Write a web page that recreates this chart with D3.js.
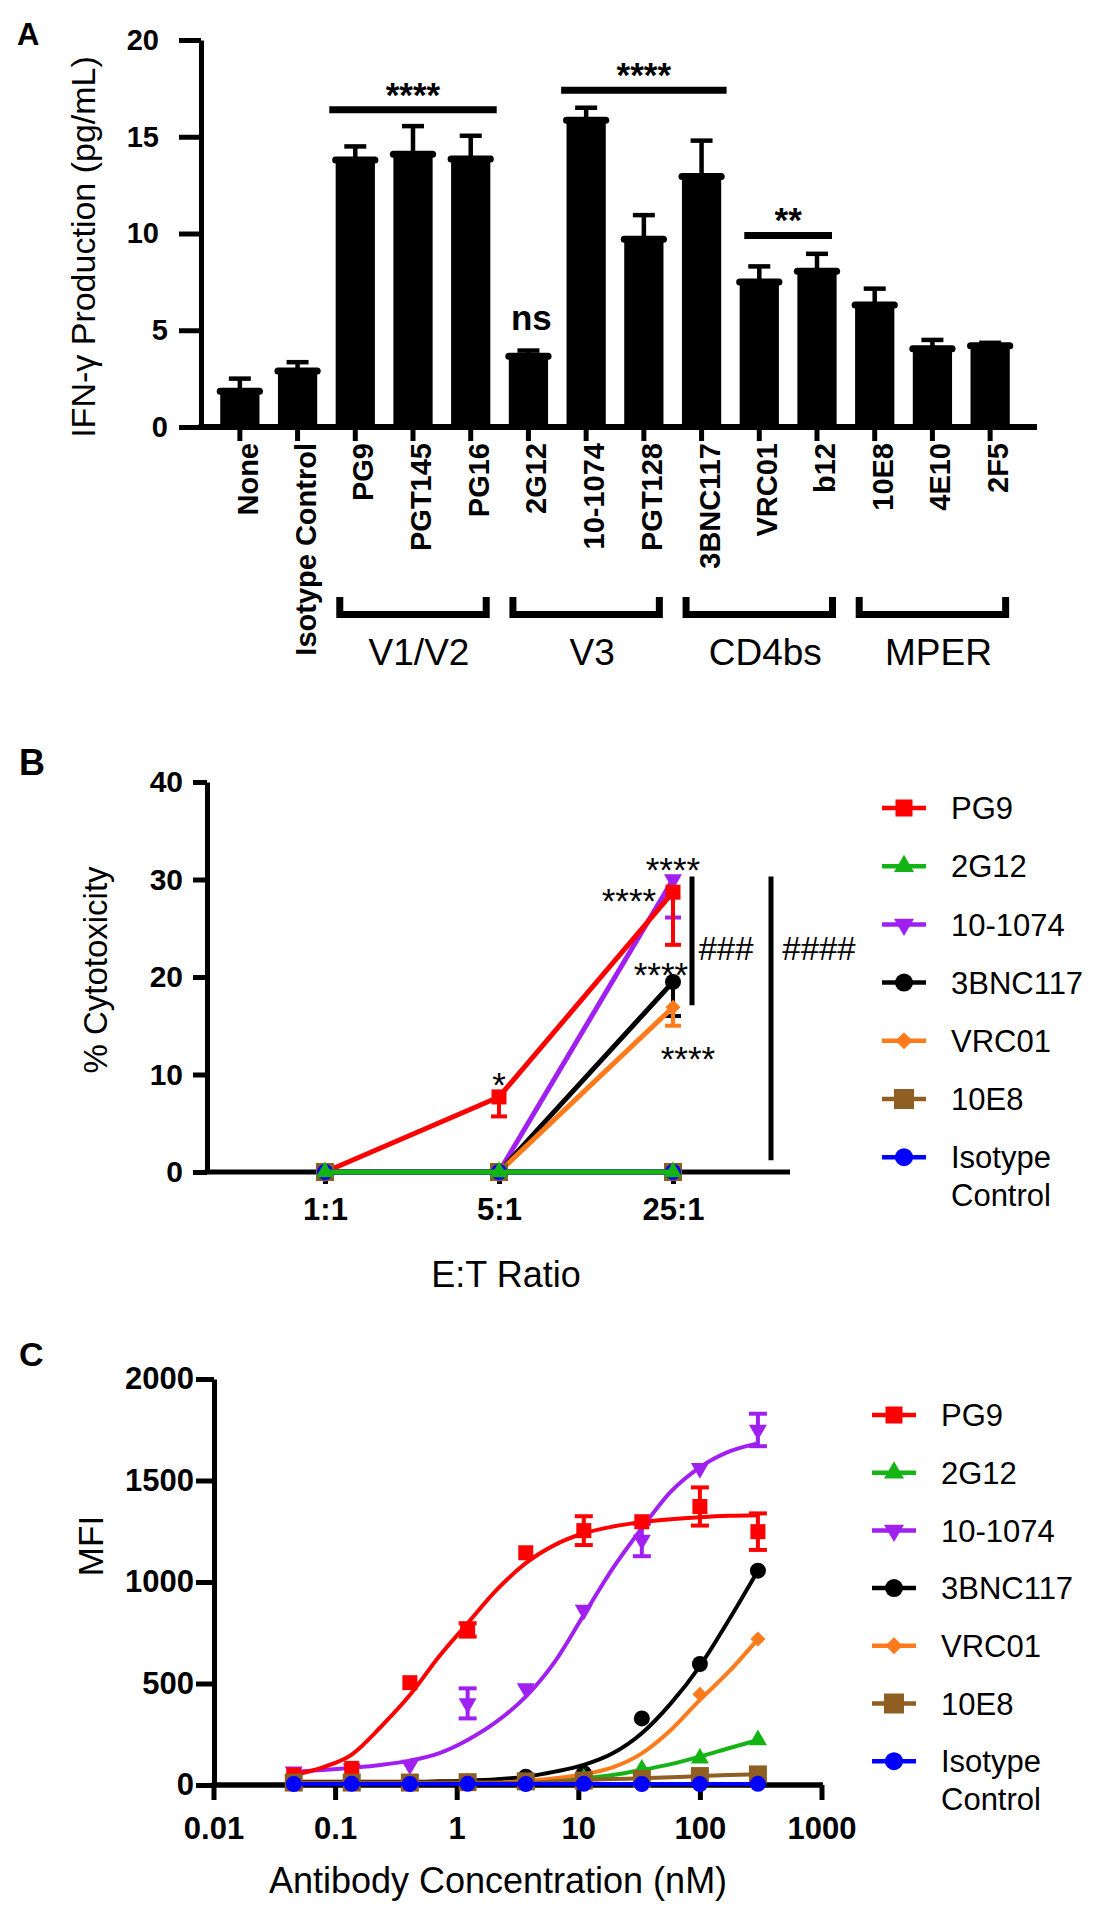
<!DOCTYPE html>
<html><head><meta charset="utf-8">
<script src="https://cdn.jsdelivr.net/npm/d3@7"></script>
<style>body{margin:0;background:#fff}svg{display:block}</style>
</head><body><svg id="chart" width="1107" height="1920"></svg>
<script>
// ================= DATA =================
// Panel A
const catsA = ["None","Isotype Control","PG9","PGT145","PG16","2G12","10-1074","PGT128","3BNC117","VRC01","b12","10E8","4E10","2F5"];
const meanA = [1.85,2.9,13.8,14.1,13.85,3.65,15.85,9.7,12.95,7.5,8.05,6.3,4.05,4.2];
const errA  = [0.65,0.45,0.7,1.45,1.2,0.3,0.65,1.25,1.85,0.8,0.9,0.85,0.45,0.15];
const ticksA = [0,5,10,15,20];
const groupNamesA = ["V1/V2","V3","CD4bs","MPER"];
const groupFromA = ["PG9","2G12","3BNC117","10E8"];
const groupToA   = ["PG16","PGT128","b12","2F5"];
const sigLabelsA = ["****","****","**"];
const sigFromA = ["PG9","10-1074","VRC01"];
const sigToA   = ["PG16","3BNC117","b12"];
const sigLevelA = [16.4,17.4,9.9];
const nsCatA = "2G12", nsLevelA = 5.0;

// Panel B
const ratiosB = ["1:1","5:1","25:1"];
const ticksB = [0,10,20,30,40];
const seriesNames = ["PG9","2G12","10-1074","3BNC117","VRC01","10E8","Isotype Control"];
const valB_PG9   = [0,7.7,28.7];   const errB_PG9   = [0,2.0,5.4];
const valB_2G12  = [0,0,0];        const errB_2G12  = [0,0,0];
const valB_1074  = [0,0,30.0];     const errB_1074  = [0,0,3.9];
const valB_3BNC  = [0,0,19.5];     const errB_3BNC  = [0,0,3.5];
const valB_VRC01 = [0,0,16.9];     const errB_VRC01 = [0,0,1.9];
const valB_10E8  = [0,0,0];        const errB_10E8  = [0,0,0];
const valB_Iso   = [0,0,0];        const errB_Iso   = [0,0,0];

// Panel C
const concC = [0.0457,0.137,0.412,1.23,3.70,11.1,33.3,100,300];
const ticksC_x = [0.01,0.1,1,10,100,1000];
const tickLabelsC_x = ["0.01","0.1","1","10","100","1000"];
const ticksC_y = [0,500,1000,1500,2000];
const valC_PG9   = [49,82,504,764,1144,1253,1297,1372,1248];
const errC_PG9   = [0,0,0,33,0,71,0,94,90];
const valC_2G12  = [6,6,6,8,10,33,77,131,222];
const errC_2G12  = [0,0,0,0,0,0,0,0,0];
const valC_1074  = [66,80,99,402,476,862,1207,1560,1749];
const errC_1074  = [0,0,0,74,0,0,80,0,80];
const valC_3BNC  = [12,12,12,15,41,58,328,596,1056];
const errC_3BNC  = [0,0,0,0,0,0,0,0,0];
const valC_VRC01 = [8,8,8,10,15,30,55,447,719];
const errC_VRC01 = [0,0,0,0,0,0,0,0,0];
const valC_10E8  = [12,12,12,14,18,22,30,44,52];
const errC_10E8  = [0,0,0,0,0,0,0,0,0];
const valC_Iso   = [5,6,5,6,5,6,5,5,6];
const errC_Iso   = [0,0,0,0,0,0,0,0,0];
// fitted curves
const curveConcC = [0.0457,0.0792,0.137,0.238,0.412,0.713,1.23,2.14,3.70,6.42,11.1,19.2,33.3,57.7,100,173,300];
const fitC_PG9   = [49,87,150,287,443,632,797,962,1093,1183,1240,1273,1295,1309,1319,1326,1329];
const fitC_1074  = [66,74,85,99,120,156,222,313,435,608,838,1067,1265,1445,1565,1642,1683];
const fitC_3BNC  = [16,16,16,16,16,18,21,28,41,66,99,156,255,402,586,813,1056];
const fitC_VRC01 = [11,11,11,11,11,11,11,11,21,33,53,87,156,271,419,558,719];
const fitC_2G12  = [8,8,8,8,8,8,8,8,8,16,33,49,74,103,140,181,222];
const fitC_10E8  = [11,11,11,11,11,11,11,11,11,18,25,29,33,38,44,49,53];
const fitC_Iso   = [5,5,5,5,5,5,5,5,5,5,5,5,5,5,5,5,5];

// ================= STYLE =================
const FONT = '"Liberation Sans", Arial, Helvetica, sans-serif';
const style = {
  "PG9":            {color:"#ff0000", shape:"square",  w:15},
  "2G12":           {color:"#14b414", shape:"triUp",   w:18},
  "10-1074":        {color:"#a020f0", shape:"triDown", w:18},
  "3BNC117":        {color:"#000000", shape:"circle",  w:16},
  "VRC01":          {color:"#ff7a1a", shape:"diamond", w:15},
  "10E8":           {color:"#8f5e22", shape:"square",  w:18},
  "Isotype Control":{color:"#0000ff", shape:"circle",  w:16}
};
function symbolPath(shape, w){
  if (shape==="square") return d3.symbol(d3.symbolSquare, w*w)();
  if (shape==="circle") return d3.symbol(d3.symbolCircle, Math.PI*w*w/4)();
  if (shape==="triUp"||shape==="triDown") return d3.symbol(d3.symbolTriangle, 0.433*w*w)();
  if (shape==="diamond") return d3.symbol(d3.symbolSquare, w*w/2)();
}
function symbolRot(shape){ return shape==="triDown"?180:(shape==="diamond"?45:0); }

const svg = d3.select("#chart").attr("font-family", FONT);
svg.append("rect").attr("width",1107).attr("height",1920).attr("fill","#fff");

function styleAxis(g, fs, weight, sw){
  g.attr("font-family",FONT).attr("font-size",fs).attr("font-weight",weight);
  g.selectAll(".tick line").attr("stroke","#000").attr("stroke-width",sw);
  g.selectAll(".domain").attr("stroke","#000").attr("stroke-width",sw);
  g.selectAll("text").attr("fill","#000");
}
function txt(g, x, y, s, fs, weight, anchor){
  return g.append("text").attr("x",x).attr("y",y).text(s)
    .attr("font-size",fs).attr("font-weight",weight||"normal")
    .attr("text-anchor",anchor||"start").attr("fill","#000");
}

// ================= PANEL A =================
const gA = svg.append("g");
const xA = d3.scaleBand().domain(catsA).range([211,1019]).paddingInner(0.32).paddingOuter(0.16);
const yA = d3.scaleLinear().domain([0,20]).range([427,40]);
const bwA = xA.bandwidth();
const cA = c => xA(c)+bwA/2;
const barsA = catsA.map((c,i)=>({c, v:meanA[i], e:errA[i]}));

txt(gA, 17, 45, "A", 31, "bold");

gA.selectAll("line.errA").data(barsA).join("line")
  .attr("x1",d=>cA(d.c)).attr("x2",d=>cA(d.c))
  .attr("y1",d=>yA(d.v)).attr("y2",d=>yA(d.v+d.e))
  .attr("stroke","#000").attr("stroke-width",4.5);
gA.selectAll("line.capA").data(barsA).join("line")
  .attr("x1",d=>cA(d.c)-11).attr("x2",d=>cA(d.c)+11)
  .attr("y1",d=>yA(d.v+d.e)).attr("y2",d=>yA(d.v+d.e))
  .attr("stroke","#000").attr("stroke-width",4.5);
gA.selectAll("rect.barA").data(barsA).join("rect")
  .attr("x",d=>xA(d.c)).attr("width",bwA)
  .attr("y",d=>yA(d.v)).attr("height",d=>yA(0)-yA(d.v)).attr("fill","#000");
gA.selectAll("line.topA").data(barsA).join("line")
  .attr("x1",d=>xA(d.c)).attr("x2",d=>xA(d.c)+bwA)
  .attr("y1",d=>yA(d.v)).attr("y2",d=>yA(d.v))
  .attr("stroke","#000").attr("stroke-width",7).attr("stroke-linecap","round");

const gYA = gA.append("g").attr("transform","translate(201,0)")
  .call(d3.axisLeft(yA).tickValues(ticksA).tickSize(22).tickSizeOuter(0).tickPadding(12));
styleAxis(gYA, 29, "bold", 5);
gYA.selectAll(".tick text").attr("x", d => d<10 ? -33 : -42);
const gXA = gA.append("g").attr("transform","translate(0,427)")
  .call(d3.axisBottom(xA).tickSize(14).tickSizeOuter(0));
gXA.select(".domain").remove();
styleAxis(gXA, 29, "bold", 5);
gXA.selectAll(".tick text").attr("transform","rotate(-90)")
  .attr("x",-16).attr("y",0).attr("dy","0.62em").attr("text-anchor","end");
gA.append("line").attr("x1",198.5).attr("x2",1037).attr("y1",427).attr("y2",427)
  .attr("stroke","#000").attr("stroke-width",6);

gA.append("text").attr("transform","translate(86,247) rotate(-90)")
  .attr("text-anchor","middle").attr("dy","0.25em").attr("font-size",34)
  .text("IFN-γ Production (pg/mL)");

groupNamesA.forEach((name,i)=>{
  const x1 = cA(groupFromA[i])-19, x2 = cA(groupToA[i])+19;
  gA.append("path").attr("d",`M${x1+3.5},597V614.5H${x2-3.5}V597`)
    .attr("fill","none").attr("stroke","#000").attr("stroke-width",7);
  txt(gA, (x1+x2)/2+6, 665, name, 37, "normal", "middle");
});
const sigPadA = [26,25,15];
sigLabelsA.forEach((lab,i)=>{
  const x1 = cA(sigFromA[i])-sigPadA[i], x2 = cA(sigToA[i])+sigPadA[i];
  const y = yA(sigLevelA[i]);
  gA.append("line").attr("x1",x1).attr("x2",x2).attr("y1",y).attr("y2",y)
    .attr("stroke","#000").attr("stroke-width",7);
  txt(gA, (x1+x2)/2, y-3, lab, 35, "bold", "middle");
});
txt(gA, cA(nsCatA)+3, yA(nsLevelA), "ns", 35, "bold", "middle");

// ================= PANEL B =================
const gB = svg.append("g");
const xB = d3.scalePoint().domain(ratiosB).range([325,673]);
const yB = d3.scaleLinear().domain([0,40]).range([1172,782]);
txt(gB, 19, 775, "B", 36, "bold");

const gYB = gB.append("g").attr("transform","translate(207,0)")
  .call(d3.axisLeft(yB).tickValues(ticksB).tickSize(14).tickSizeOuter(0).tickPadding(10));
styleAxis(gYB, 30, "bold", 5);
const gXB = gB.append("g").attr("transform","translate(0,1172)")
  .call(d3.axisBottom(xB).tickSize(12).tickSizeOuter(0).tickPadding(14));
gXB.select(".domain").remove();
styleAxis(gXB, 31, "bold", 5);
gB.append("line").attr("x1",204.5).attr("x2",790).attr("y1",1172).attr("y2",1172)
  .attr("stroke","#000").attr("stroke-width",5);
gB.append("text").attr("transform","translate(99,970) rotate(-90)")
  .attr("text-anchor","middle").attr("dy","0.25em").attr("font-size",33).text("% Cytotoxicity");
txt(gB, 506, 1287, "E:T Ratio", 36, "normal", "middle");

const seriesB = {
  "PG9":[valB_PG9,errB_PG9], "2G12":[valB_2G12,errB_2G12], "10-1074":[valB_1074,errB_1074],
  "3BNC117":[valB_3BNC,errB_3BNC], "VRC01":[valB_VRC01,errB_VRC01], "10E8":[valB_10E8,errB_10E8],
  "Isotype Control":[valB_Iso,errB_Iso]
};
const drawOrderB = ["10-1074","PG9","3BNC117","VRC01","10E8","Isotype Control","2G12"];
const lineB = d3.line().x(d=>xB(d.r)).y(d=>yB(d.v));
drawOrderB.forEach(name=>{
  const st = style[name];
  const pts = ratiosB.map((r,i)=>({r, v:seriesB[name][0][i], e:seriesB[name][1][i]}));
  const g = gB.append("g");
  g.append("path").datum(pts).attr("d",lineB).attr("fill","none")
    .attr("stroke",st.color).attr("stroke-width",5);
  const eb = pts.filter(p=>p.e>0);
  g.selectAll("line.eb").data(eb).join("line")
    .attr("x1",d=>xB(d.r)).attr("x2",d=>xB(d.r)).attr("y1",d=>yB(d.v)).attr("y2",d=>yB(d.v-d.e))
    .attr("stroke",st.color).attr("stroke-width",4);
  g.selectAll("line.cap").data(eb).join("line")
    .attr("x1",d=>xB(d.r)-8).attr("x2",d=>xB(d.r)+8).attr("y1",d=>yB(d.v-d.e)).attr("y2",d=>yB(d.v-d.e))
    .attr("stroke",st.color).attr("stroke-width",4);
  g.selectAll("path.m").data(pts).join("path")
    .attr("d",symbolPath(st.shape,st.w))
    .attr("transform",d=>`translate(${xB(d.r)},${yB(d.v)}) rotate(${symbolRot(st.shape)})`)
    .attr("fill",st.color);
});
const annB = [
  {s:"*",    x:xB("5:1"),     y:yB(9.74)},
  {s:"****", x:xB("25:1"),    y:yB(31.8)},
  {s:"****", x:xB("25:1")-44, y:yB(28.6)},
  {s:"****", x:xB("25:1")-12, y:yB(21.0)},
  {s:"****", x:xB("25:1")+15, y:yB(12.4)}
];
annB.forEach(a=>txt(gB, a.x, a.y+20, a.s, 35, "normal", "middle"));
gB.append("line").attr("x1",692).attr("x2",692).attr("y1",yB(30.3)).attr("y2",yB(17.1))
  .attr("stroke","#000").attr("stroke-width",5);
gB.append("line").attr("x1",771).attr("x2",771).attr("y1",yB(30.3)).attr("y2",yB(1.2))
  .attr("stroke","#000").attr("stroke-width",5);
txt(gB, 726, yB(22.9)+11, "###", 33, "normal", "middle");
txt(gB, 819, yB(22.9)+11, "####", 33, "normal", "middle");

function legend(g, x0, y0, step){
  seriesNames.forEach((name,i)=>{
    const st = style[name], y = y0 + i*step;
    g.append("line").attr("x1",x0).attr("x2",x0+44).attr("y1",y).attr("y2",y)
      .attr("stroke",st.color).attr("stroke-width",4.5);
    g.append("path").attr("d",symbolPath(st.shape, st.w+2))
      .attr("transform",`translate(${x0+22},${y}) rotate(${symbolRot(st.shape)})`).attr("fill",st.color);
    const t = g.append("text").attr("x",x0+69).attr("y",y).attr("dy","0.36em")
      .attr("font-size",31).attr("fill","#000");
    if (name==="Isotype Control"){
      t.append("tspan").text("Isotype");
      t.append("tspan").attr("x",x0+69).attr("dy","1.21em").text("Control");
    } else t.text(name);
  });
}
legend(gB, 882, 808, 58.2);

// ================= PANEL C =================
const gC = svg.append("g");
const xC = d3.scaleLog().domain([0.01,1000]).range([213.5,821.5]);
const yC = d3.scaleLinear().domain([0,2000]).range([1785,1379]);
txt(gC, 19, 1366, "C", 34, "bold");

const gYC = gC.append("g").attr("transform","translate(214,0)")
  .call(d3.axisLeft(yC).tickValues(ticksC_y).tickFormat(d3.format("d"))
  .tickSize(18).tickSizeOuter(0).tickPadding(2));
styleAxis(gYC, 31, "bold", 5);
const gXC = gC.append("g").attr("transform","translate(0,1785)")
  .call(d3.axisBottom(xC).tickValues(ticksC_x).tickFormat((d,i)=>tickLabelsC_x[i])
  .tickSize(15).tickSizeOuter(0).tickPadding(17));
gXC.select(".domain").remove();
styleAxis(gXC, 31, "bold", 5);
gC.append("line").attr("x1",211.5).attr("x2",823).attr("y1",1785).attr("y2",1785)
  .attr("stroke","#000").attr("stroke-width",5.5);
gC.append("text").attr("transform","translate(90,1546) rotate(-90)")
  .attr("text-anchor","middle").attr("dy","0.36em").attr("font-size",35).text("MFI");
txt(gC, 498, 1893, "Antibody Concentration (nM)", 36, "normal", "middle");

const seriesC = {
  "PG9":[valC_PG9,errC_PG9,fitC_PG9], "2G12":[valC_2G12,errC_2G12,fitC_2G12],
  "10-1074":[valC_1074,errC_1074,fitC_1074], "3BNC117":[valC_3BNC,errC_3BNC,fitC_3BNC],
  "VRC01":[valC_VRC01,errC_VRC01,fitC_VRC01], "10E8":[valC_10E8,errC_10E8,fitC_10E8],
  "Isotype Control":[valC_Iso,errC_Iso,fitC_Iso]
};
const drawOrderC = ["10-1074","PG9","3BNC117","VRC01","2G12","10E8","Isotype Control"];
const lineC = d3.line().x(d=>xC(d.c)).y(d=>yC(d.v)).curve(d3.curveMonotoneX);
drawOrderC.forEach(name=>{
  const st = style[name];
  const [vals, errs, fit] = seriesC[name];
  const g = gC.append("g");
  g.append("path").datum(curveConcC.map((c,i)=>({c, v:fit[i]}))).attr("d",lineC)
    .attr("fill","none").attr("stroke",st.color).attr("stroke-width",4);
  const pts = concC.map((c,i)=>({c, v:vals[i], e:errs[i]}));
  const eb = pts.filter(p=>p.e>0);
  g.selectAll("line.eb").data(eb).join("line")
    .attr("x1",d=>xC(d.c)).attr("x2",d=>xC(d.c)).attr("y1",d=>yC(d.v+d.e)).attr("y2",d=>yC(d.v-d.e))
    .attr("stroke",st.color).attr("stroke-width",4);
  g.selectAll("line.capT").data(eb).join("line")
    .attr("x1",d=>xC(d.c)-9).attr("x2",d=>xC(d.c)+9).attr("y1",d=>yC(d.v+d.e)).attr("y2",d=>yC(d.v+d.e))
    .attr("stroke",st.color).attr("stroke-width",4);
  g.selectAll("line.capB").data(eb).join("line")
    .attr("x1",d=>xC(d.c)-9).attr("x2",d=>xC(d.c)+9).attr("y1",d=>yC(d.v-d.e)).attr("y2",d=>yC(d.v-d.e))
    .attr("stroke",st.color).attr("stroke-width",4);
  g.selectAll("path.m").data(pts).join("path")
    .attr("d",symbolPath(st.shape,st.w))
    .attr("transform",d=>`translate(${xC(d.c)},${yC(d.v)}) rotate(${symbolRot(st.shape)})`)
    .attr("fill",st.color);
});
legend(gC, 872, 1415, 57.7);
</script></body></html>
